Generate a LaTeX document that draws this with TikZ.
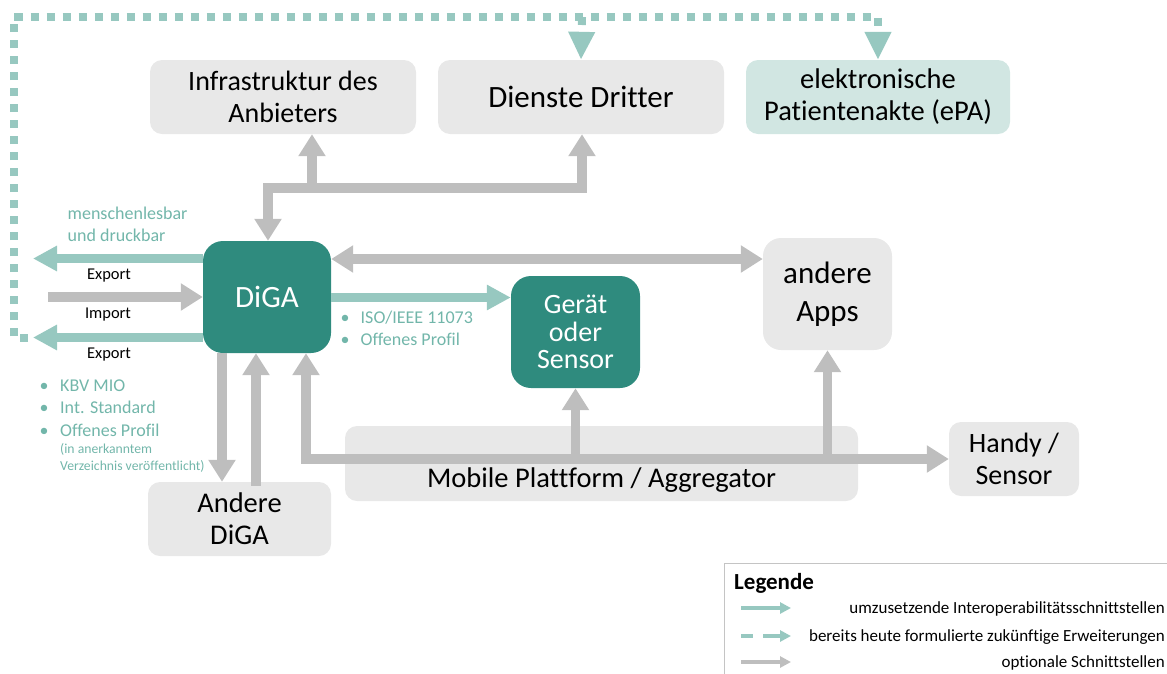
\documentclass[tikz,border=0pt]{standalone}
\usepackage{fontspec}
\setmainfont{Carlito}[Ligatures=NoCommon]
\usetikzlibrary{arrows.meta}
\definecolor{boxgray}{HTML}{E8E8E8}
\definecolor{argray}{HTML}{BEBEBE}
\definecolor{dteal}{HTML}{2F8B7E}
\definecolor{lteal}{HTML}{97C8C0}
\definecolor{epafill}{HTML}{D1E6E2}
\definecolor{tealtext}{HTML}{72B6AA}
\definecolor{legline}{HTML}{C4C4C4}
\newcommand\fsz[2]{\fontsize{#1}{#2}\selectfont}
\tikzset{
  gbox/.style={fill=boxgray, rounded corners=12pt, inner sep=0pt, align=center, text=black},
  tbox/.style={fill=dteal, rounded corners=20pt, inner sep=0pt, align=center, text=white},
  gar/.style={draw=argray, line width=9.5pt, -{Triangle[width=26pt,length=22pt]}},
  gar2/.style={draw=argray, line width=9.5pt, {Triangle[width=26pt,length=22pt]}-{Triangle[width=26pt,length=22pt]}},
  tar/.style={draw=lteal, line width=9pt, -{Triangle[width=24pt,length=24pt]}},
  dar/.style={draw=lteal, line width=8pt, dash pattern=on 8pt off 8pt, -{Triangle[width=25pt,length=28pt]}},
  ttxt/.style={text=tealtext, inner sep=0pt},
  ktxt/.style={text=black, inner sep=0pt},
}
\begin{document}
\begin{tikzpicture}[x=1pt,y=-1pt]
\useasboundingbox (0,0) rectangle (1167,673);
\clip (0,0) rectangle (1167,673);

% boxes
\node[gbox, minimum width=266pt, minimum height=74pt, font=\fsz{28}{32}] (infra) at (283,97) {Infrastruktur des\\Anbieters};
\node[gbox, minimum width=286pt, minimum height=74pt, font=\fsz{31}{35}] (dienste) at (581,97) {Dienste Dritter};
\node[gbox, fill=epafill, minimum width=264pt, minimum height=74pt, font=\fsz{28.5}{32}] (epa) at (878,97) {elektronische\\Patientenakte (ePA)};
\node[tbox, minimum width=128pt, minimum height=112pt, font=\fsz{31}{35}] (diga) at (267,297) {DiGA};
\node[tbox, minimum width=129pt, minimum height=112pt, font=\fsz{28}{27.5}] (geraet) at (575.5,332) {Gerät\\oder\\Sensor};
\node[gbox, rounded corners=18pt, minimum width=129pt, minimum height=112pt, font=\fsz{31}{38}] (apps) at (827.5,294) {andere\\Apps};
\node[gbox, minimum width=513pt, minimum height=75pt] (mobile) at (601.5,463.5) {};
\node[ktxt, anchor=base, font=\fsz{28.5}{32}] (mobtxt) at (601.5,487) {Mobile Plattform / Aggregator};
\node[gbox, minimum width=130pt, minimum height=74pt, font=\fsz{28}{32}] (handy) at (1014,459) {Handy /\\Sensor};
\node[gbox, minimum width=183pt, minimum height=74pt, font=\fsz{28.5}{32}] (andere) at (239.5,519) {Andere\\DiGA};

% dotted future extensions
\coordinate (d0) at (28,337.5);
\coordinate (d1) at (13.5,337.5);
\coordinate (d2) at (13.5,17);
\coordinate (d3) at (878,17);
\coordinate (d4) at (582,17);
\draw[dar] (d0) -- (d1) -- (d2) -- (d3) -- (epa.north);
\draw[dar] (d4) -- (dienste.north);

% fork to infrastructure / third parties
\coordinate (f1) at (268,188);
\coordinate (f2) at (582,188);
\coordinate (f3) at (312,188);
\draw[gar2] (dienste.south -| f2) -- (f2) -- (f1) -- (f1 |- diga.north);
\draw[gar] (f3) -- (infra.south -| f3);

% DiGA <-> andere Apps
\coordinate (h1) at (0,259);
\draw[gar2] (diga.east |- h1) -- (apps.west |- h1);

% DiGA -> Geraet
\coordinate (t1) at (0,297.5);
\draw[tar] (diga.east |- t1) -- (geraet.west |- t1);

% left side
\coordinate (ex1) at (33,258.5);
\coordinate (im) at (48,297);
\coordinate (ex2) at (33,337.5);
\draw[tar] (diga.west |- ex1) -- (ex1);
\draw[gar] (im) -- (diga.west |- im);
\draw[tar] (diga.west |- ex2) -- (ex2);

% DiGA <-> Andere DiGA
\coordinate (a1) at (222,0);
\coordinate (a2) at (256,0);
\draw[gar] (diga.south -| a1) -- (andere.north -| a1);
\draw[gar] ([yshift=-4pt]andere.north -| a2) -- (diga.south -| a2);

% mobile platform line
\coordinate (b0) at (306,459);
\draw[gar2] (diga.south -| b0) -- (b0) -- (handy.west |- b0);
\draw[gar] (geraet.south |- b0) -- (geraet.south);
\draw[gar] (apps.south |- b0) -- (apps.south);

% labels
\node[ttxt, anchor=base west, font=\fsz{18}{21}] (lm1) at (67.5,219) {menschenlesbar};
\node[ttxt, anchor=base west, font=\fsz{18}{21}] (lm2) at (67.5,241.5) {und druckbar};
\node[ktxt, anchor=base, font=\fsz{16.5}{20}] (lex1) at (109,279) {Export};
\node[ktxt, anchor=base, font=\fsz{16.5}{20}] (lim) at (108,318.5) {Import};
\node[ktxt, anchor=base, font=\fsz{16.5}{20}] (lex2) at (109,358) {Export};

\node[ttxt, anchor=base, font=\fsz{18}{21}] (bl1) at (44,391) {•};
\node[ttxt, anchor=base west, font=\fsz{18}{21}] (l1) at (60,391) {KBV MIO};
\node[ttxt, anchor=base, font=\fsz{18}{21}] (bl2) at (44,413.5) {•};
\node[ttxt, anchor=base west, font=\fsz{18}{21}] (l2) at (60,413.5) {Int. Standard};
\node[ttxt, anchor=base, font=\fsz{18}{21}] (bl3) at (44,436) {•};
\node[ttxt, anchor=base west, font=\fsz{18}{21}] (l3) at (60,436) {Offenes Profil};
\node[ttxt, anchor=base west, font=\fsz{13.7}{16}] (l4) at (60,453) {(in anerkanntem};
\node[ttxt, anchor=base west, font=\fsz{13.7}{16}] (l5) at (60,470) {Verzeichnis veröffentlicht)};

\node[ttxt, anchor=base, font=\fsz{18}{21}] (bi1) at (345,323) {•};
\node[ttxt, anchor=base west, font=\fsz{18}{21}] (i1) at (360.5,323) {ISO/IEEE 11073};
\node[ttxt, anchor=base, font=\fsz{18}{21}] (bi2) at (345,345) {•};
\node[ttxt, anchor=base west, font=\fsz{18}{21}] (i2) at (360.5,345) {Offenes Profil};

% legend
\draw[legline, line width=1.5pt] (1180,563.5) -- (724.5,563.5) -- (724.5,690);
\node[ktxt, anchor=base west, font=\fsz{23}{26}\bfseries] (leg) at (734,589) {Legende};
\coordinate (la1) at (741,608);
\coordinate (lb1) at (791,608);
\coordinate (la2) at (741,636);
\coordinate (lb2) at (791,636);
\coordinate (la3) at (741,662);
\coordinate (lb3) at (791,662);
\draw[draw=lteal, line width=4pt, -{Triangle[width=11pt,length=11pt]}] (la1) -- (lb1);
\draw[draw=lteal, line width=4pt, dash pattern=on 12pt off 10pt on 40pt, -{Triangle[width=11pt,length=11pt]}] (la2) -- (lb2);
\draw[draw=argray, line width=4pt, -{Triangle[width=11pt,length=11pt]}] (la3) -- (lb3);
\node[ktxt, anchor=base east, font=\fsz{17}{20}] (lt1) at (1165,613) {umzusetzende Interoperabilitätsschnittstellen};
\node[ktxt, anchor=base east, font=\fsz{17}{20}] (lt2) at (1165,641) {bereits heute formulierte zukünftige Erweiterungen};
\node[ktxt, anchor=base east, font=\fsz{17}{20}] (lt3) at (1165,667) {optionale Schnittstellen};
\end{tikzpicture}
\end{document}
